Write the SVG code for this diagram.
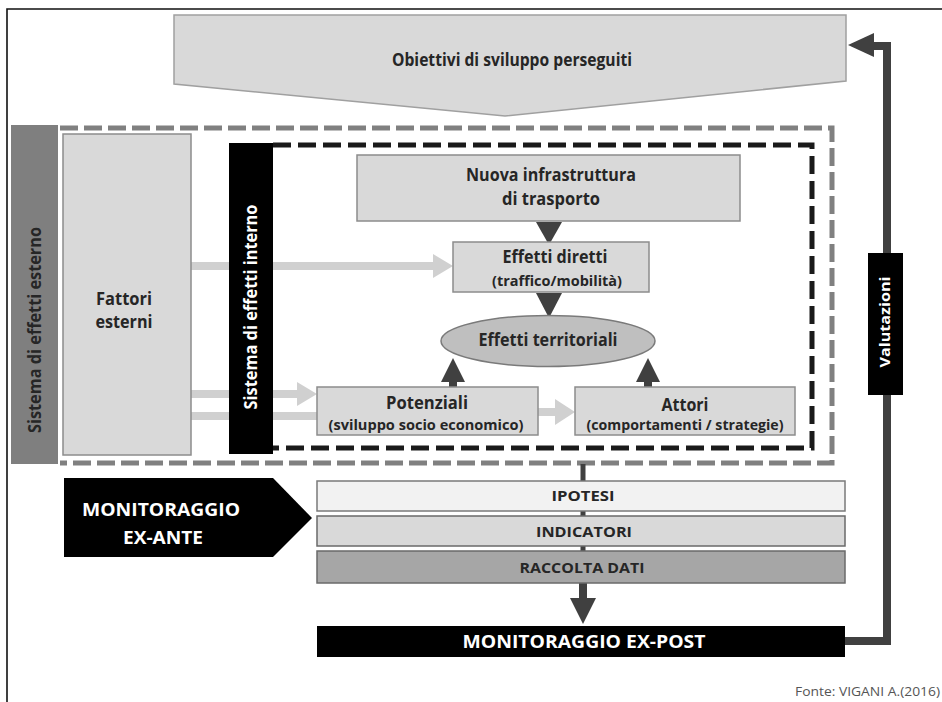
<svg xmlns="http://www.w3.org/2000/svg" width="942" height="702" viewBox="0 0 942 702">
<style>
text{font-family:"Open Sans","Liberation Sans",sans-serif;font-weight:700;fill:#262626;text-anchor:middle}
.w{fill:#ffffff}
.box{fill:#d9d9d9;stroke:#8c8c8c;stroke-width:1.5}
.dark{fill:#404040}
.lg{fill:#d0d0d0}
.lgl{stroke:#d0d0d0;stroke-width:8;fill:none}
.dl{stroke:#404040;fill:none}
</style>
<rect x="0" y="0" width="942" height="702" fill="#ffffff"/>
<g id="frame">
<path d="M7,702 V9 H942" fill="none" stroke="#111" stroke-width="1.6"/>
</g>
<g id="boundaries">
<path d="M60,128 H832 V463 H60" fill="none" stroke="#808080" stroke-width="5" stroke-dasharray="18 6"/>
<path d="M273,145 H812 V448 H273" fill="none" stroke="#1a1a1a" stroke-width="5" stroke-dasharray="18 7"/>
</g>
<g id="connectors">
<line class="lgl" x1="190" y1="266" x2="435" y2="266"/>
<polygon class="lg" points="433,254 453,266 433,278"/>
<line class="lgl" x1="190" y1="394" x2="299" y2="394"/>
<polygon class="lg" points="297,382 317,394 297,406"/>
<line class="lgl" x1="190" y1="416" x2="318" y2="416"/>
<line class="lgl" x1="538" y1="412" x2="560" y2="412"/>
<polygon class="lg" points="555,399 575,412 555,425"/>
<polygon class="dark" points="536,222 562,222 549,245"/>
<polygon class="dark" points="536,293 562,293 549,318"/>
<rect class="dark" x="449" y="378" width="8" height="10"/>
<polygon class="dark" points="441,382 465,382 453,358"/>
<rect class="dark" x="644" y="378" width="8" height="10"/>
<polygon class="dark" points="636,382 660,382 648,358"/>
<path class="dl" d="M583,464 V482 M583,510 V517 M583,546 V552" stroke-width="5"/>
<line class="dl" x1="583" y1="583" x2="583" y2="600" stroke-width="8"/>
<polygon class="dark" points="570,598 596,598 583,624"/>
<path class="dl" d="M845,641 H887 V46 H870" stroke-width="8"/>
<polygon class="dark" points="848,45 874,33 874,57"/>
</g>
<g id="obiettivi">
<polygon points="174,15 846,15 846,81 505,116 174,84" fill="#d9d9d9" stroke="#a0a0a0" stroke-width="1.5"/>
<text x="512" y="66" font-size="17" textLength="240" lengthAdjust="spacingAndGlyphs">Obiettivi di sviluppo perseguiti</text>
</g>
<g id="sistema-esterno">
<rect x="11" y="125" width="47" height="339" fill="#7f7f7f"/>
<text transform="translate(41,330) rotate(-90)" font-size="18" textLength="206" lengthAdjust="spacingAndGlyphs">Sistema di effetti esterno</text>
</g>
<g id="fattori">
<rect class="box" x="63" y="134" width="128" height="321"/>
<text x="124" y="305" font-size="17" textLength="56" lengthAdjust="spacingAndGlyphs">Fattori</text>
<text x="124" y="328" font-size="17" textLength="57" lengthAdjust="spacingAndGlyphs">esterni</text>
</g>
<g id="sistema-interno">
<rect x="229" y="143" width="44" height="311" fill="#000000"/>
<text class="w" transform="translate(257,307) rotate(-90)" font-size="18" textLength="205" lengthAdjust="spacingAndGlyphs">Sistema di effetti interno</text>
</g>
<g id="nuova">
<rect class="box" x="357" y="155" width="383" height="66"/>
<text x="551" y="181" font-size="18" textLength="170" lengthAdjust="spacingAndGlyphs">Nuova infrastruttura</text>
<text x="551" y="205" font-size="18" textLength="98" lengthAdjust="spacingAndGlyphs">di trasporto</text>
</g>
<g id="effetti-diretti">
<rect class="box" x="453" y="242" width="196" height="50"/>
<text x="555" y="263" font-size="17" textLength="105" lengthAdjust="spacingAndGlyphs">Effetti diretti</text>
<text x="557" y="286" font-size="13.5" textLength="130" lengthAdjust="spacingAndGlyphs">(traffico/mobilità)</text>
</g>
<g id="effetti-territoriali">
<ellipse cx="548" cy="341" rx="107" ry="25.5" fill="#bfbfbf" stroke="#7a7a7a" stroke-width="1.5"/>
<text x="548" y="346" font-size="17" textLength="139" lengthAdjust="spacingAndGlyphs">Effetti territoriali</text>
</g>
<g id="potenziali">
<rect class="box" x="317" y="387" width="221" height="48"/>
<text x="427" y="409" font-size="17" textLength="82" lengthAdjust="spacingAndGlyphs">Potenziali</text>
<text x="426" y="430" font-size="13.5" textLength="195" lengthAdjust="spacingAndGlyphs">(sviluppo socio economico)</text>
</g>
<g id="attori">
<rect class="box" x="575" y="387" width="220" height="48"/>
<text x="685" y="411" font-size="17" textLength="47" lengthAdjust="spacingAndGlyphs">Attori</text>
<text x="685" y="430" font-size="13.5" textLength="197" lengthAdjust="spacingAndGlyphs">(comportamenti / strategie)</text>
</g>
<g id="ex-ante">
<polygon points="64,478 273,478 312,518 273,557 64,557" fill="#000000"/>
<text class="w" x="161" y="516" font-size="18" textLength="158" lengthAdjust="spacingAndGlyphs">MONITORAGGIO</text>
<text class="w" x="163" y="544" font-size="18" textLength="80" lengthAdjust="spacingAndGlyphs">EX-ANTE</text>
</g>
<g id="ipotesi">
<rect x="317" y="481" width="528" height="30" fill="#f2f2f2" stroke="#7a7a7a" stroke-width="1.5"/>
<text x="583" y="501" font-size="15" textLength="63" lengthAdjust="spacingAndGlyphs">IPOTESI</text>
</g>
<g id="indicatori">
<rect x="317" y="516" width="528" height="30" fill="#d9d9d9" stroke="#6a6a6a" stroke-width="1.5"/>
<text x="584" y="537" font-size="15" textLength="96" lengthAdjust="spacingAndGlyphs">INDICATORI</text>
</g>
<g id="raccolta">
<rect x="317" y="551" width="528" height="32" fill="#a6a6a6" stroke="#6a6a6a" stroke-width="1.5"/>
<text x="582" y="573" font-size="15" textLength="125" lengthAdjust="spacingAndGlyphs">RACCOLTA DATI</text>
</g>
<g id="ex-post">
<rect x="317" y="626" width="528" height="31" fill="#000000"/>
<text class="w" x="584" y="648" font-size="18" textLength="243" lengthAdjust="spacingAndGlyphs">MONITORAGGIO EX-POST</text>
</g>
<g id="valutazioni">
<rect x="868" y="253" width="35" height="142" fill="#000000"/>
<text class="w" transform="translate(890,322) rotate(-90)" font-size="15" textLength="91" lengthAdjust="spacingAndGlyphs">Valutazioni</text>
</g>
<text x="940" y="696" font-size="12" style="text-anchor:end;font-weight:400;fill:#555" textLength="145" lengthAdjust="spacingAndGlyphs">Fonte: VIGANI A.(2016)</text>
</svg>
